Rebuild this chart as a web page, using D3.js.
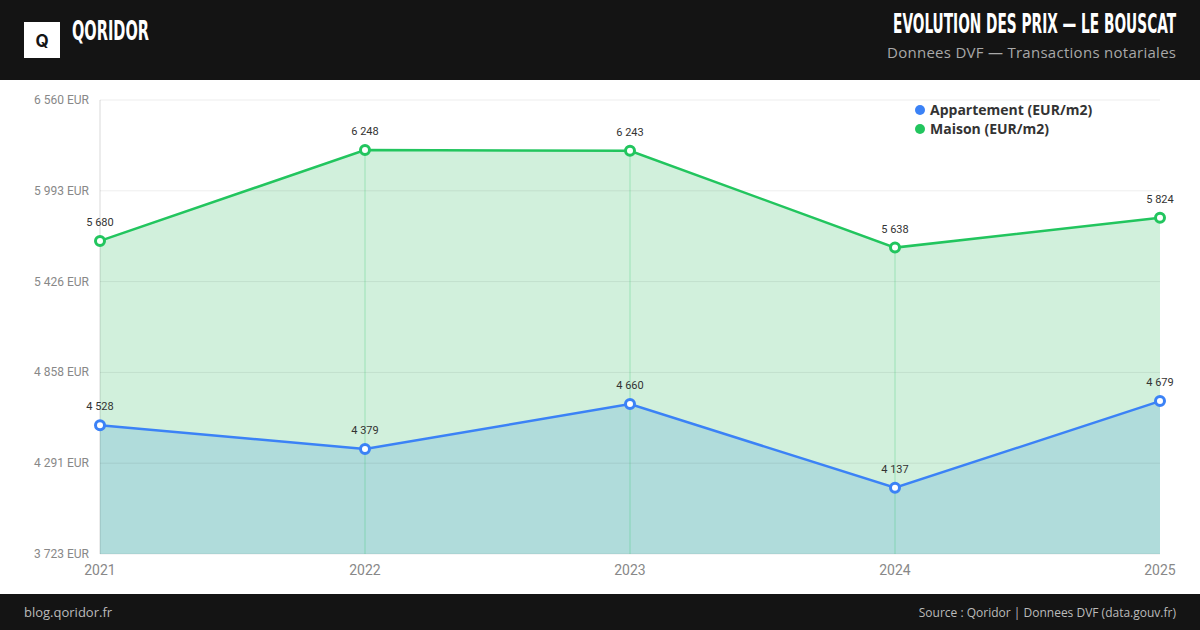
<!DOCTYPE html>
<html>
<head>
<meta charset="utf-8">
<script src="https://cdn.jsdelivr.net/npm/d3@7"></script>
<style>
  body { margin: 0; background: #fff; }
  svg { display: block; }
</style>
</head>
<body>
<div id="chart"></div>
<script>
const years = ["2021", "2022", "2023", "2024", "2025"];
const appartement = [4528, 4379, 4660, 4137, 4679];
const maison = [5680, 6248, 6243, 5638, 5824];
const yDomain = [3723.3, 6560.4];
const seriesNames = ["Appartement (EUR/m2)", "Maison (EUR/m2)"];
const seriesColors = ["#3b82f6", "#22c55e"];

const W = 1200, H = 630;
const plot = { left: 100, right: 1160, top: 100, bottom: 554 };
const fmt = v => d3.format(",.0f")(v).replace(/,/g, " ");
const narrow = "'DejaVu Sans Condensed', 'Liberation Sans Narrow', sans-serif";

const svg = d3.select("#chart").append("svg")
  .attr("width", W).attr("height", H)
  .style("font-family", "Roboto, Inter, sans-serif");

// header
svg.append("rect").attr("width", W).attr("height", 80).attr("fill", "#141414");
svg.append("rect").attr("x", 24).attr("y", 22).attr("width", 36).attr("height", 36).attr("fill", "#fff");
svg.append("text").attr("x", 42).attr("y", 46.5).attr("text-anchor", "middle")
  .attr("font-size", 17).attr("font-weight", 700).attr("fill", "#141414")
  .style("font-family", "Inter, sans-serif").text("Q");
svg.append("text").attr("x", 72).attr("y", 40)
  .attr("font-size", 27).attr("font-weight", 700).attr("fill", "#fff")
  .attr("textLength", 77).attr("lengthAdjust", "spacingAndGlyphs")
  .style("font-family", narrow)
  .text("QORIDOR");
svg.append("text").attr("x", 1176).attr("y", 33).attr("text-anchor", "end")
  .attr("font-size", 27).attr("font-weight", 700).attr("fill", "#fff")
  .attr("textLength", 283).attr("lengthAdjust", "spacingAndGlyphs")
  .style("font-family", narrow)
  .text("EVOLUTION DES PRIX — LE BOUSCAT");
svg.append("text").attr("x", 1176).attr("y", 58).attr("text-anchor", "end")
  .attr("font-size", 15).attr("fill", "#a8a8a8")
  .attr("textLength", 289).attr("lengthAdjust", "spacing")
  .style("font-family", "'Open Sans', sans-serif")
  .text("Donnees DVF — Transactions notariales");

// footer
svg.append("rect").attr("y", 594).attr("width", W).attr("height", 36).attr("fill", "#141414");
svg.append("text").attr("x", 24).attr("y", 617).attr("font-size", 13).attr("fill", "#bbb")
  .style("font-family", "'Open Sans', sans-serif").text("blog.qoridor.fr");
svg.append("text").attr("x", 1176).attr("y", 617).attr("text-anchor", "end")
  .attr("font-size", 12).attr("fill", "#bbb")
  .style("font-family", "'Open Sans', sans-serif")
  .text("Source : Qoridor | Donnees DVF (data.gouv.fr)");

// scales
const x = d3.scalePoint().domain(years).range([plot.left, plot.right]);
const y = d3.scaleLinear().domain(yDomain).range([plot.bottom, plot.top]);
const yTicks = d3.range(6).map(i => yDomain[0] + i * (yDomain[1] - yDomain[0]) / 5);

// areas
const area = d3.area().x((d, i) => x(years[i])).y0(plot.bottom).y1(d => y(d));
svg.append("path").datum(maison).attr("d", area).attr("fill", "#d1f0dc");
svg.append("path").datum(appartement).attr("d", area).attr("fill", "#b0dcdb");

// grid
svg.append("g").selectAll("line").data(yTicks).join("line")
  .attr("x1", plot.left).attr("x2", plot.right)
  .attr("y1", d => y(d)).attr("y2", d => y(d))
  .attr("stroke", "rgba(0,0,0,0.07)").attr("stroke-width", 1);
svg.append("g").selectAll("line").data(years.slice(1, -1)).join("line")
  .attr("x1", d => x(d)).attr("x2", d => x(d))
  .attr("y1", (d, i) => y(maison[i + 1])).attr("y2", plot.bottom)
  .attr("stroke", "rgba(34,197,94,0.3)").attr("stroke-width", 1);
svg.append("line").attr("x1", plot.left).attr("x2", plot.left)
  .attr("y1", plot.top).attr("y2", plot.bottom)
  .attr("stroke", "rgba(0,0,0,0.15)");

// y labels
svg.append("g").selectAll("text").data(yTicks).join("text")
  .attr("x", 89).attr("y", d => y(d) + 4).attr("text-anchor", "end")
  .attr("font-size", 12).attr("fill", "#888")
  .text(d => fmt(d) + " EUR");

// x labels
svg.append("g").selectAll("text").data(years).join("text")
  .attr("x", d => x(d)).attr("y", 575).attr("text-anchor", "middle")
  .attr("font-size", 14).attr("fill", "#888").text(d => d);

// lines + points + labels
const line = d3.line().x((d, i) => x(years[i])).y(d => y(d));
[appartement, maison].forEach((vals, s) => {
  svg.append("path").datum(vals).attr("d", line)
    .attr("fill", "none").attr("stroke", seriesColors[s]).attr("stroke-width", 2.5);
  svg.append("g").selectAll("circle").data(vals).join("circle")
    .attr("cx", (d, i) => x(years[i])).attr("cy", d => y(d)).attr("r", 4.5)
    .attr("fill", "#fff").attr("stroke", seriesColors[s]).attr("stroke-width", 3);
  svg.append("g").selectAll("text").data(vals).join("text")
    .attr("x", (d, i) => x(years[i])).attr("y", d => y(d) - 15)
    .attr("text-anchor", "middle").attr("font-size", 11).attr("fill", "#333")
    .text(d => fmt(d));
});

// legend
const leg = svg.append("g").selectAll("g").data(seriesNames).join("g")
  .attr("transform", (d, i) => `translate(920,${110 + i * 19})`);
leg.append("circle").attr("r", 5).attr("fill", (d, i) => seriesColors[i]);
leg.append("text").attr("x", 10).attr("y", 5).attr("font-size", 14).attr("font-weight", 700)
  .attr("fill", "#333").style("font-family", "'Open Sans', sans-serif").text(d => d);
</script>
</body>
</html>
